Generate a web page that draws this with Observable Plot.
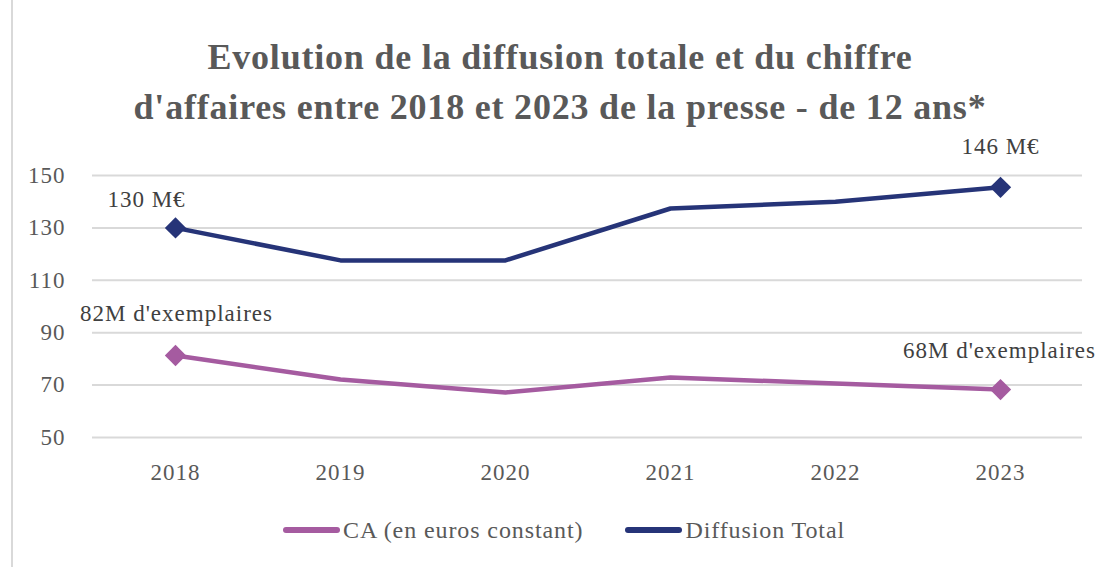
<!DOCTYPE html>
<html>
<head>
<meta charset="utf-8">
<script src="https://cdn.jsdelivr.net/npm/d3@7"></script>
<script src="https://cdn.jsdelivr.net/npm/@observablehq/plot@0.6"></script>
<style>
  html, body { margin: 0; padding: 0; background: #fff; }
  body { width: 1101px; height: 567px; position: relative; overflow: hidden; font-family: "Liberation Serif", serif; }
  #frame { position: absolute; left: 11px; top: 0; width: 2px; height: 567px; background: #d9d9d9; }
  #title { position: absolute; left: 20px; width: 1080px; top: 32px; text-align: center; font-family: "Liberation Serif", serif; font-size: 36px; letter-spacing: 0.8px; font-weight: bold; line-height: 50px; color: #595959; }
  #chart { position: absolute; left: 0; top: 100px; }
  #legend { position: absolute; left: 283px; top: 516px; height: 28px; display: flex; align-items: center; font-family: "Liberation Serif", serif; font-size: 24px; letter-spacing: 0.9px; color: #595959; white-space: nowrap; }
  #legend span { font-family: "Liberation Serif", serif; }
  .item { display: flex; align-items: center; }
  .sw { display: inline-block; width: 57px; height: 6px; border-radius: 3px; margin-right: 3px; }
</style>
</head>
<body>
<div id="frame"></div>
<div id="title">Evolution de la diffusion totale et du chiffre<br>d'affaires entre 2018 et 2023 de la presse - de 12 ans*</div>
<div id="chart"></div>
<div id="legend"></div>
<script>
const years = ["2018", "2019", "2020", "2021", "2022", "2023"];
const seriesNames = ["CA (en euros constant)", "Diffusion Total"];
const caValues = [81.3, 72.1, 67.2, 72.9, 70.6, 68.3];
const diffusionValues = [130, 117.6, 117.6, 137.4, 140, 145.5];
const yTicks = [50, 70, 90, 110, 130, 150];
const colors = ["#A55BA0", "#263478"];
const labelTexts = {
  caFirst: "82M d'exemplaires",
  caLast: "68M d'exemplaires",
  diffFirst: "130 M€",
  diffLast: "146 M€"
};

const data = [];
years.forEach((y, i) => data.push({year: y, value: caValues[i], series: seriesNames[0]}));
years.forEach((y, i) => data.push({year: y, value: diffusionValues[i], series: seriesNames[1]}));
const ends = data.filter(d => d.year === years[0] || d.year === years[years.length - 1]);
const pick = (s, y) => data.filter(d => d.series === s && d.year === y);

const textStyle = {fontSize: 23, fill: "#404040", fontFamily: "Liberation Serif"};

const chart = Plot.plot({
  width: 1101,
  height: 390,
  marginLeft: 92,
  marginRight: 19,
  marginTop: 75,
  marginBottom: 53,
  style: {fontFamily: "Liberation Serif", fontSize: "23px", letterSpacing: "1px", color: "#595959", background: "transparent", overflow: "visible"},
  x: {type: "point", domain: years, padding: 0.5},
  y: {domain: [50, 150]},
  color: {domain: seriesNames, range: colors},
  marks: [
    Plot.ruleY(yTicks, {stroke: "#d9d9d9", strokeWidth: 2}),
    Plot.axisY({ticks: yTicks, tickSize: 0, tickPadding: 27, label: null}),
    Plot.axisX({tickSize: 0, tickPadding: 26, label: null}),
    Plot.line(data, {x: "year", y: "value", z: "series", stroke: "series", strokeWidth: 4.5, curve: "linear"}),
    Plot.dot(ends, {x: "year", y: "value", fill: "series", symbol: "square", rotate: 45, r: 8.5}),
    Plot.text(pick(seriesNames[1], years[0]), {x: "year", y: "value", text: () => labelTexts.diffFirst, dx: -29, dy: -28, ...textStyle}),
    Plot.text(pick(seriesNames[1], years[5]), {x: "year", y: "value", text: () => labelTexts.diffLast, dx: 0, dy: -41, ...textStyle}),
    Plot.text(pick(seriesNames[0], years[0]), {x: "year", y: "value", text: () => labelTexts.caFirst, dx: 1, dy: -42, ...textStyle}),
    Plot.text(pick(seriesNames[0], years[5]), {x: "year", y: "value", text: () => labelTexts.caLast, dx: -1, dy: -39, ...textStyle})
  ]
});
document.getElementById("chart").appendChild(chart);

const legend = document.getElementById("legend");
seriesNames.forEach((name, i) => {
  const item = document.createElement("div");
  item.className = "item";
  if (i > 0) item.style.marginLeft = "42px";
  const sw = document.createElement("span");
  sw.className = "sw";
  sw.style.background = colors[i];
  const lab = document.createElement("span");
  lab.textContent = name;
  item.appendChild(sw);
  item.appendChild(lab);
  legend.appendChild(item);
});
</script>
</body>
</html>
